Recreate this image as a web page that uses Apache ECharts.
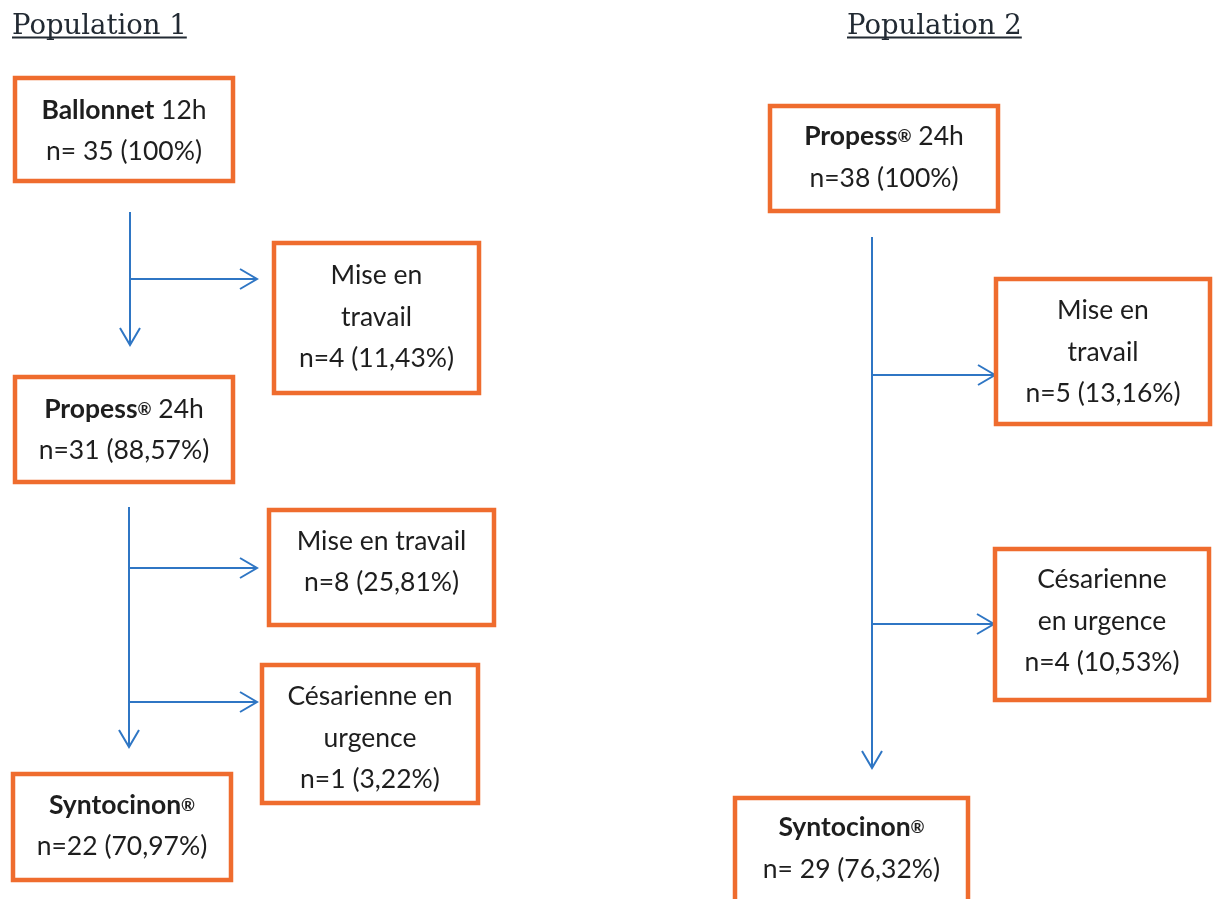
<!DOCTYPE html>
<html>
<head>
<meta charset="utf-8">
<style>
  html, body { margin: 0; padding: 0; background: #ffffff; }
  #chart { width: 1218px; height: 899px; }
</style>
<script src="https://cdn.jsdelivr.net/npm/echarts@6/dist/echarts.min.js"></script>
</head>
<body>
<div id="chart"></div>
<script>
// titles of the two flowcharts
const titleTexts = ['Population 1', 'Population 2'];
const titleX = [12, 847];
const titleY = [27, 27];

// box contents: name lines, then the count line
const boxNames = [
  '{b|Ballonnet} 12h',
  'Mise en\ntravail',
  '{b|Propess}{s|®} 24h',
  'Mise en travail',
  'Césarienne en\nurgence',
  '{b|Syntocinon}{s|®}',
  '{b|Propess}{s|®} 24h',
  'Mise en\ntravail',
  'Césarienne\nen urgence',
  '{b|Syntocinon}{s|®}'
];
const boxCounts = [
  'n= 35 (100%)',
  'n=4 (11,43%)',
  'n=31 (88,57%)',
  'n=8 (25,81%)',
  'n=1 (3,22%)',
  'n=22 (70,97%)',
  'n=38 (100%)',
  'n=5 (13,16%)',
  'n=4 (10,53%)',
  'n= 29 (76,32%)'
];

// box layout in page units
const boxX = [15, 274, 15, 269, 262, 13, 770, 996, 995, 735];
const boxY = [78, 243, 377, 510, 665, 774, 106, 279, 549, 798];
const boxW = [218, 205, 218, 225, 216, 218, 228, 214, 214, 233];
const boxH = [103, 150, 105, 115, 138, 106, 105, 145, 151, 112];
const textMid = [131, 317, 430, 562, 738, 826, 157.5, 352, 621, 848.5];

// arrows, start and tip
const arrowFrom = [[130, 212], [130, 279], [129, 507], [129, 568], [129, 702], [872, 237], [872, 375], [872, 624]];
const arrowTo = [[130, 345], [257, 279], [129, 747], [257, 568], [257, 702], [872, 768], [995, 375], [994, 624]];

const orange = '#ef6c2e';
const blue = '#2f76c4';
const ink = '#1e1e1e';
const boxFont = 'Lato';
const boxFontSize = 26.5;
const boxLineHeight = 41.5;
const titleFontSize = 27.5;
const titleFontFamily = 'DejaVu Serif';

const measureContext = document.createElement('canvas').getContext('2d');

function renderArrow(params, api) {
  const start = api.coord([api.value(0), api.value(1)]);
  const tip = api.coord([api.value(2), api.value(3)]);
  const dx = tip[0] - start[0];
  const dy = tip[1] - start[1];
  const length = Math.hypot(dx, dy);
  const ux = dx / length;
  const uy = dy / length;
  const headLength = 17;
  const headHalf = 10;
  const left = [tip[0] - ux * headLength - uy * headHalf, tip[1] - uy * headLength + ux * headHalf];
  const right = [tip[0] - ux * headLength + uy * headHalf, tip[1] - uy * headLength - ux * headHalf];
  return {
    type: 'group',
    children: [
      {
        type: 'line',
        shape: { x1: start[0], y1: start[1], x2: tip[0], y2: tip[1] },
        style: { stroke: blue, lineWidth: 2 }
      },
      {
        type: 'polyline',
        shape: { points: [left, tip, right] },
        style: { stroke: blue, lineWidth: 2, fill: null }
      }
    ]
  };
}

function renderBox(params, api) {
  const i = params.dataIndex;
  const topLeft = api.coord([api.value(0), api.value(1)]);
  const bottomRight = api.coord([api.value(0) + api.value(2), api.value(1) + api.value(3)]);
  const middle = api.coord([0, api.value(4)]);
  return {
    type: 'group',
    children: [
      {
        type: 'rect',
        shape: {
          x: topLeft[0],
          y: topLeft[1],
          width: bottomRight[0] - topLeft[0],
          height: bottomRight[1] - topLeft[1]
        },
        style: { fill: '#ffffff', stroke: orange, lineWidth: 4.5 }
      },
      {
        type: 'text',
        style: {
          text: boxNames[i] + '\n' + boxCounts[i],
          x: (topLeft[0] + bottomRight[0]) / 2,
          y: middle[1],
          align: 'center',
          verticalAlign: 'middle',
          fontFamily: boxFont,
          fontSize: boxFontSize,
          lineHeight: boxLineHeight,
          fill: ink,
          rich: {
            b: {
              fontFamily: boxFont,
              fontWeight: 'bold',
              fontSize: boxFontSize,
              lineHeight: boxLineHeight,
              fill: ink
            },
            s: {
              fontFamily: boxFont,
              fontWeight: 'bold',
              fontSize: 17,
              lineHeight: 24,
              fill: ink
            }
          }
        }
      }
    ]
  };
}

function renderTitle(params, api) {
  const i = params.dataIndex;
  const point = api.coord([api.value(0), api.value(1)]);
  measureContext.font = titleFontSize + 'px "' + titleFontFamily + '"';
  const width = measureContext.measureText(titleTexts[i]).width;
  return {
    type: 'group',
    children: [
      {
        type: 'text',
        style: {
          text: titleTexts[i],
          x: point[0],
          y: point[1],
          align: 'left',
          verticalAlign: 'middle',
          fontFamily: titleFontFamily,
          fontSize: titleFontSize,
          fill: '#222a33'
        }
      },
      {
        type: 'line',
        shape: { x1: point[0], y1: point[1] + 10.5, x2: point[0] + width, y2: point[1] + 10.5 },
        style: { stroke: '#222a33', lineWidth: 1.8 }
      }
    ]
  };
}

const chart = echarts.init(document.getElementById('chart'), null, { renderer: 'canvas' });
chart.setOption({
  animation: false,
  backgroundColor: '#ffffff',
  grid: { left: 0, right: 0, top: 0, bottom: 0 },
  xAxis: { type: 'value', min: 0, max: 1218, show: false },
  yAxis: { type: 'value', min: 0, max: 899, inverse: true, show: false },
  series: [
    {
      type: 'custom',
      name: 'arrows',
      silent: true,
      z: 1,
      renderItem: renderArrow,
      data: arrowFrom.map((from, i) => [from[0], from[1], arrowTo[i][0], arrowTo[i][1]])
    },
    {
      type: 'custom',
      name: 'boxes',
      silent: true,
      z: 2,
      renderItem: renderBox,
      data: boxX.map((x, i) => [x, boxY[i], boxW[i], boxH[i], textMid[i]])
    },
    {
      type: 'custom',
      name: 'titles',
      silent: true,
      z: 3,
      renderItem: renderTitle,
      data: titleX.map((x, i) => [x, titleY[i]])
    }
  ]
});

window.addEventListener('resize', () => chart.resize());
</script>
</body>
</html>
